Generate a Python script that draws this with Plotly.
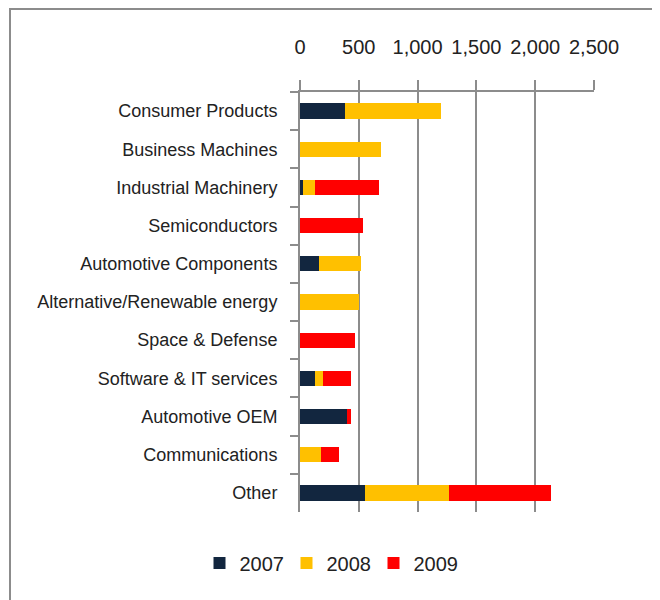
import plotly.graph_objects as go

categories = ["Consumer Products", "Business Machines", "Industrial Machinery",
              "Semiconductors", "Automotive Components", "Alternative/Renewable energy",
              "Space & Defense", "Software & IT services", "Automotive OEM",
              "Communications", "Other"]
v2007 = [380, 0, 25, 0, 160, 0, 0, 125, 400, 0, 550]
v2008 = [820, 690, 100, 0, 360, 500, 0, 70, 0, 180, 715]
v2009 = [0, 0, 545, 535, 0, 0, 468, 240, 35, 150, 870]
years = ["2007", "2008", "2009"]
colors = ["#12263F", "#FFC000", "#FF0000"]

FONT = "Liberation Sans, Arial, sans-serif"

fig = go.Figure()
for name, vals, c in zip(years, [v2007, v2008, v2009], colors):
    fig.add_trace(go.Bar(y=categories, x=vals, name=name, orientation="h",
                         marker=dict(color=c, line=dict(width=0))))

# page has an 8px body margin; work in figure-local coordinates
OFF = 8
W, H = 652, 592
L = 300 - OFF
T = 92 - OFF
B = H - (512 - OFF)
R = W - (594 - OFF)
pw, ph = W - L - R, H - T - B

def px_x(p):
    return (p - OFF - L) / pw

def px_y(p):
    return (H - B - (p - OFF)) / ph

fig.update_layout(
    width=W, height=H,
    barmode="stack", bargap=0.6,
    margin=dict(l=L, r=R, t=T, b=B),
    paper_bgcolor="white", plot_bgcolor="white",
    font=dict(family=FONT, color="#222222", size=18),
    showlegend=True,
    legend=dict(orientation="h", x=px_x(330), xanchor="center", y=px_y(563), yanchor="middle",
                font=dict(size=20), traceorder="normal", itemwidth=30, entrywidth=42),
    xaxis=dict(side="top", range=[0, 2500], dtick=500, tickformat=",",
               showgrid=True, gridcolor="#8C8C8C", gridwidth=2,
               showline=True, linecolor="#8C8C8C", linewidth=2,
               ticks="outside", ticklen=10, tickwidth=2, tickcolor="#8C8C8C",
               tickfont=dict(size=20), ticklabelstandoff=18, zeroline=False),
    yaxis=dict(autorange="reversed", showline=True, linecolor="#8C8C8C", linewidth=2,
               ticks="outside", ticklen=8, tickwidth=2, tickcolor="#8C8C8C",
               tickson="boundaries", ticklabelstandoff=17, tickfont=dict(size=18)),
    shapes=[dict(type="rect", xref="paper", yref="paper",
                 x0=px_x(10), x1=px_x(654), y0=px_y(9), y1=px_y(620),
                 line=dict(color="#8C8C8C", width=2), fillcolor="rgba(0,0,0,0)", layer="below")],
)

fig.write_html("out.html")
